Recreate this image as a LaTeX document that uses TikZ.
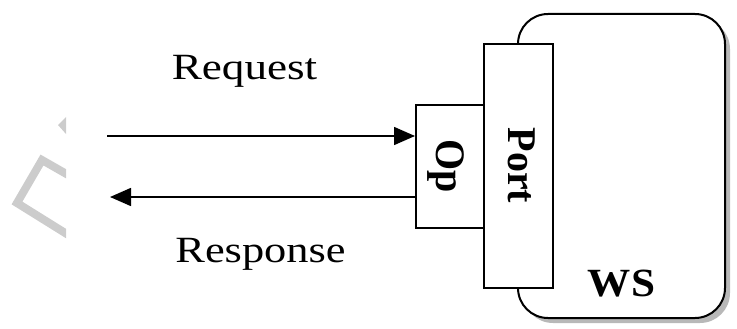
\documentclass[tikz,border=0pt]{standalone}
\usepackage{fontspec}
\setmainfont{Liberation Serif}
\usetikzlibrary{arrows.meta,shadows}
\begin{document}
\begin{tikzpicture}[x=1pt,y=-1pt,
  box/.style={draw=black, line width=2pt, fill=white, inner sep=0pt},
  plainlabel/.style={font=\fontsize{37}{40}\selectfont, anchor=base, inner sep=0pt},
  boldlabel/.style={font=\fontsize{40}{44}\selectfont\bfseries, anchor=base, inner sep=0pt},
  flow/.style={line width=1.6pt, -{Triangle[length=21pt,width=18pt]}}]
\useasboundingbox (0,0) rectangle (737,329);
% watermark fragment
\begin{scope}
  \clip (0,0) rectangle (66,329);
  \draw[black!20, line width=8pt] (70,176) -- (42,160) -- (17,203) -- (70,236);
  \fill[black!20] (58,125) -- (66,117) -- (66,134) -- cycle;
\end{scope}
% web service
\node[box, rounded corners=30pt, minimum width=207pt, minimum height=304pt,
  drop shadow={shadow xshift=5pt, shadow yshift=-5pt, fill=black!28, opacity=1}] (ws) at (621.5,166) {};
\node[box, minimum width=68pt, minimum height=123pt] (op) at (450,166.5) {};
\node[box, minimum width=69pt, minimum height=244pt] (port) at (518.5,166) {};
% labels
\node[boldlabel, rotate=-90] (optext) at (436.8,166) {\scalebox{1}[1.05]{Op}};
\node[boldlabel, rotate=-90] (porttext) at (508.3,165.5) {\scalebox{1}[1.02]{Port}};
\node[boldlabel] (wstext) at (621.5,296.7) {\scalebox{1.08}[1]{WS}};
\node[plainlabel] (req) at (244.5,79.3) {\scalebox{1.22}[1]{Request}};
\node[plainlabel] (resp) at (260.5,262) {\scalebox{1.2}[1]{Response}};
% arrows
\coordinate (reqstart) at (107,136);
\coordinate (respend) at (110,197);
\draw[flow] (reqstart) -- (reqstart -| op.west);
\draw[flow] (respend -| op.west) -- (respend);
\end{tikzpicture}
\end{document}
